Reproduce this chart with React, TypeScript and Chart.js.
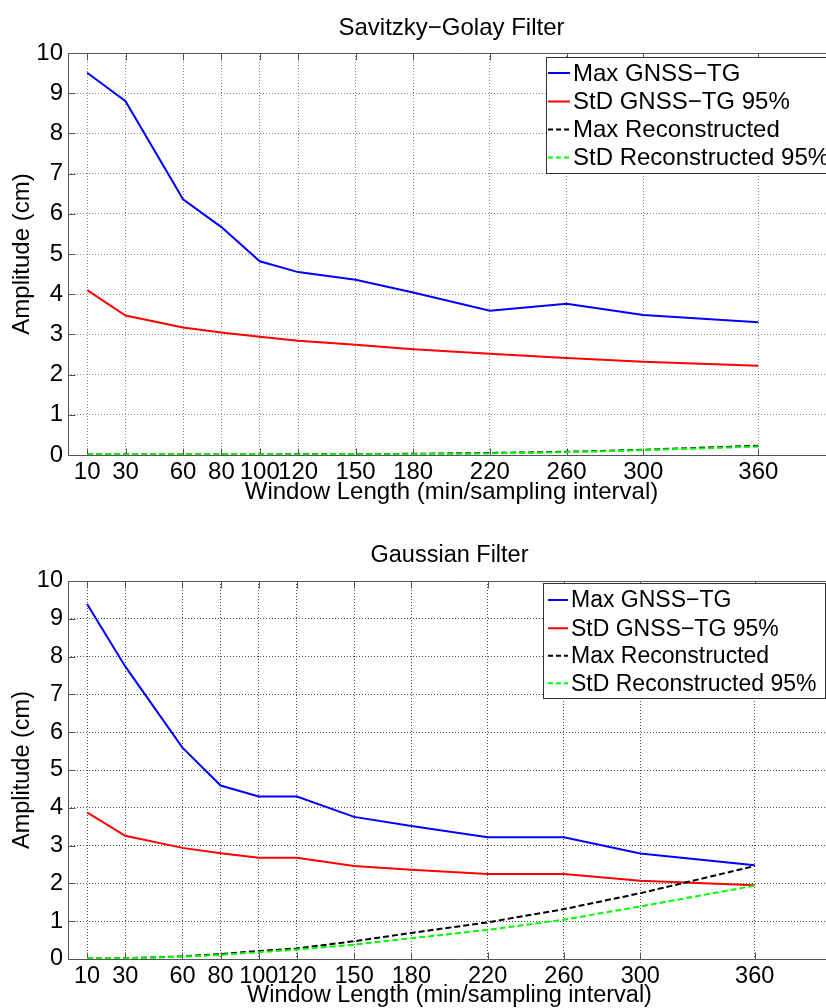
import React, { useEffect, useRef } from "react";
import { Chart, registerables } from "chart.js";

Chart.register(...registerables);

// ---------- data ----------
const windowLengths = [10, 30, 60, 80, 100, 120, 150, 180, 220, 260, 300, 360];
const xTickValues = [10, 30, 60, 80, 100, 120, 150, 180, 220, 260, 300, 360];
const yTickValues = [0, 1, 2, 3, 4, 5, 6, 7, 8, 9, 10];

const seriesNames = ["Max GNSS\u2212TG", "StD GNSS\u2212TG 95%", "Max Reconstructed", "StD Reconstructed 95%"];

// Savitzky-Golay
const sgMaxGnss = [9.51, 8.8, 6.36, 5.67, 4.82, 4.55, 4.36, 4.04, 3.59, 3.76, 3.48, 3.3];
const sgStdGnss = [4.1, 3.47, 3.17, 3.05, 2.94, 2.84, 2.74, 2.63, 2.52, 2.41, 2.32, 2.22];
const sgMaxRec = [0.01, 0.01, 0.01, 0.01, 0.01, 0.02, 0.02, 0.03, 0.05, 0.08, 0.13, 0.23];
const sgStdRec = [0.01, 0.01, 0.01, 0.01, 0.01, 0.01, 0.02, 0.02, 0.04, 0.07, 0.12, 0.21];

// Gaussian
const gMaxGnss = [9.39, 7.74, 5.59, 4.59, 4.3, 4.3, 3.76, 3.52, 3.22, 3.22, 2.79, 2.48];
const gStdGnss = [3.88, 3.26, 2.94, 2.8, 2.68, 2.68, 2.46, 2.36, 2.25, 2.25, 2.07, 1.95];
const gMaxRec = [0.01, 0.02, 0.07, 0.13, 0.21, 0.28, 0.47, 0.69, 0.97, 1.32, 1.74, 2.46];
const gStdRec = [0.01, 0.02, 0.06, 0.11, 0.18, 0.25, 0.38, 0.55, 0.77, 1.04, 1.39, 1.94];

// ---------- styling ----------
const FONT = "'Liberation Sans', Arial, Helvetica, sans-serif";
const colors = ["#0000ff", "#ff0000", "#000000", "#00ff00"];
const dashes: number[][] = [[], [], [6, 3], [6, 3]];

type Panel = {
  title: string;
  series: number[][];
  top: number;
  plotTop: number;
  plotBottom: number;
  plotRight: number;
  fontSize: number;
  legendFont: number;
  titleBaseline: number;
  xTitleBaseline: number;
  gridColor: string;
  legend: { left: number; top: number; bottom: number; right: number; rows: number[]; lineX0: number; lineX1: number; textX: number };
};

const CANVAS_W = 850;
const CANVAS_H = 504;

const panels: Panel[] = [
  {
    title: "Savitzky\u2212Golay Filter",
    series: [sgMaxGnss, sgStdGnss, sgMaxRec, sgStdRec],
    top: 0,
    plotTop: 53,
    plotBottom: 455,
    plotRight: 835,
    fontSize: 24,
    legendFont: 24,
    titleBaseline: 35,
    xTitleBaseline: 499,
    gridColor: "rgba(0,0,0,0.45)",
    legend: { left: 546, top: 57, bottom: 173, right: 836, rows: [73, 101.5, 129.5, 157.5], lineX0: 548, lineX1: 570, textX: 573 },
  },
  {
    title: "Gaussian Filter",
    series: [gMaxGnss, gStdGnss, gMaxRec, gStdRec],
    top: 504,
    plotTop: 77,
    plotBottom: 455,
    plotRight: 831,
    fontSize: 23.5,
    legendFont: 23,
    titleBaseline: 58,
    xTitleBaseline: 498,
    gridColor: "rgba(0,0,0,0.7)",
    legend: { left: 543, top: 79, bottom: 194, right: 825, rows: [96, 124.3, 151.7, 179.3], lineX0: 548, lineX1: 568, textX: 571 },
  },
];

function makeChart(canvas: HTMLCanvasElement, p: Panel) {
  const overlay = {
    id: "matlabDecor",
    beforeDatasetsDraw(chart: any) {
      const { ctx, chartArea } = chart;
      const xs = chart.scales.x;
      const ys = chart.scales.y;
      ctx.save();
      ctx.strokeStyle = "#555";
      ctx.lineWidth = 1;
      ctx.setLineDash([]);
      ctx.beginPath();
      const L = Math.round(chartArea.left) + 0.5;
      const T = Math.round(chartArea.top) + 0.5;
      const B = Math.round(chartArea.bottom) + 0.5;
      const R = chartArea.right + 20;
      ctx.moveTo(L, T);
      ctx.lineTo(R, T);
      ctx.moveTo(L, T);
      ctx.lineTo(L, B);
      ctx.lineTo(R, B);
      // tick marks (inward)
      xTickValues.forEach((v) => {
        const px = Math.round(xs.getPixelForValue(v)) + 0.5;
        ctx.moveTo(px, B);
        ctx.lineTo(px, B - 7);
        ctx.moveTo(px, T);
        ctx.lineTo(px, T + 7);
      });
      yTickValues.forEach((v) => {
        const py = Math.round(ys.getPixelForValue(v)) + 0.5;
        ctx.moveTo(L, py);
        ctx.lineTo(L + 7, py);
      });
      ctx.stroke();
      ctx.restore();
    },
    afterDraw(chart: any) {
      const { ctx, chartArea } = chart;
      ctx.save();
      // title
      ctx.fillStyle = "#000";
      ctx.font = `${p.fontSize}px ${FONT}`;
      ctx.textAlign = "center";
      ctx.textBaseline = "alphabetic";
      const cx = (chartArea.left + chartArea.right) / 2;
      ctx.fillText(p.title, cx, p.titleBaseline);
      // x axis title
      ctx.fillText("Window Length (min/sampling interval)", cx, p.xTitleBaseline);
      // y axis title
      ctx.save();
      ctx.translate(29, (chartArea.top + chartArea.bottom) / 2);
      ctx.rotate(-Math.PI / 2);
      ctx.textBaseline = "alphabetic";
      ctx.fillText("Amplitude (cm)", 0, 0);
      ctx.restore();
      // legend
      const lg = p.legend;
      ctx.fillStyle = "#fff";
      ctx.fillRect(lg.left, lg.top, lg.right - lg.left, lg.bottom - lg.top);
      ctx.strokeStyle = "#333";
      ctx.lineWidth = 1;
      ctx.strokeRect(lg.left + 0.5, lg.top + 0.5, lg.right - lg.left, lg.bottom - lg.top);
      ctx.font = `${p.legendFont}px ${FONT}`;
      ctx.textAlign = "left";
      ctx.textBaseline = "middle";
      seriesNames.forEach((name, i) => {
        const y = lg.rows[i];
        ctx.strokeStyle = colors[i];
        ctx.lineWidth = 2;
        ctx.setLineDash(dashes[i].length ? [5, 3] : []);
        ctx.beginPath();
        ctx.moveTo(lg.lineX0, y);
        ctx.lineTo(lg.lineX1, y);
        ctx.stroke();
        ctx.setLineDash([]);
        ctx.fillStyle = "#000";
        ctx.fillText(name, lg.textX, y + 1);
      });
      ctx.restore();
    },
  };

  const datasets = p.series.map((vals, i) => ({
    label: seriesNames[i],
    data: windowLengths.map((x, k) => ({ x, y: vals[k] })),
    borderColor: colors[i],
    backgroundColor: colors[i],
    borderWidth: 2,
    borderDash: dashes[i],
    pointRadius: 0,
    tension: 0,
    fill: false,
    order: 3 - i,
  }));

  return new Chart(canvas, {
    type: "line",
    data: { datasets },
    options: {
      animation: false,
      responsive: false,
      maintainAspectRatio: false,
      layout: { padding: { top: p.plotTop, right: CANVAS_W - p.plotRight, left: 0, bottom: 0 } },
      plugins: {
        legend: { display: false },
        title: { display: false },
        tooltip: { enabled: false },
      },
      scales: {
        x: {
          type: "linear",
          min: 0,
          max: 400,
          afterBuildTicks: (s: any) => {
            s.ticks = xTickValues.map((v) => ({ value: v }));
          },
          afterFit: (s: any) => {
            s.height = CANVAS_H - p.plotBottom;
          },
          ticks: {
            autoSkip: false,
            maxRotation: 0,
            minRotation: 0,
            padding: 3,
            color: "#000",
            font: { family: FONT, size: p.fontSize },
            callback: (v: any) => String(v),
          },
          grid: { color: p.gridColor, lineWidth: 1, drawTicks: false },
          border: { display: false, dash: [1, 2] },
        },
        y: {
          type: "linear",
          min: 0,
          max: 10,
          afterBuildTicks: (s: any) => {
            s.ticks = yTickValues.map((v) => ({ value: v }));
          },
          afterFit: (s: any) => {
            s.width = 68;
          },
          ticks: {
            padding: 5,
            color: "#000",
            font: { family: FONT, size: p.fontSize },
            callback: (v: any) => String(v),
          },
          grid: { color: p.gridColor, lineWidth: 1, drawTicks: false },
          border: { display: false, dash: [1, 2] },
        },
      },
    } as any,
    plugins: [overlay],
  });
}

function Panel({ p }: { p: Panel }) {
  const ref = useRef<HTMLCanvasElement | null>(null);
  useEffect(() => {
    if (!ref.current) return;
    const chart = makeChart(ref.current, p);
    return () => chart.destroy();
  }, [p]);
  return (
    <canvas
      ref={ref}
      width={CANVAS_W}
      height={CANVAS_H}
      style={{ position: "absolute", left: 0, top: p.top, width: CANVAS_W, height: CANVAS_H, display: "block" }}
    />
  );
}

export default function App() {
  return (
    <div style={{ position: "absolute", left: 0, top: 0, width: 826, height: 1008, overflow: "hidden", background: "#fff" }}>
      {panels.map((p, i) => (
        <Panel key={i} p={p} />
      ))}
    </div>
  );
}
